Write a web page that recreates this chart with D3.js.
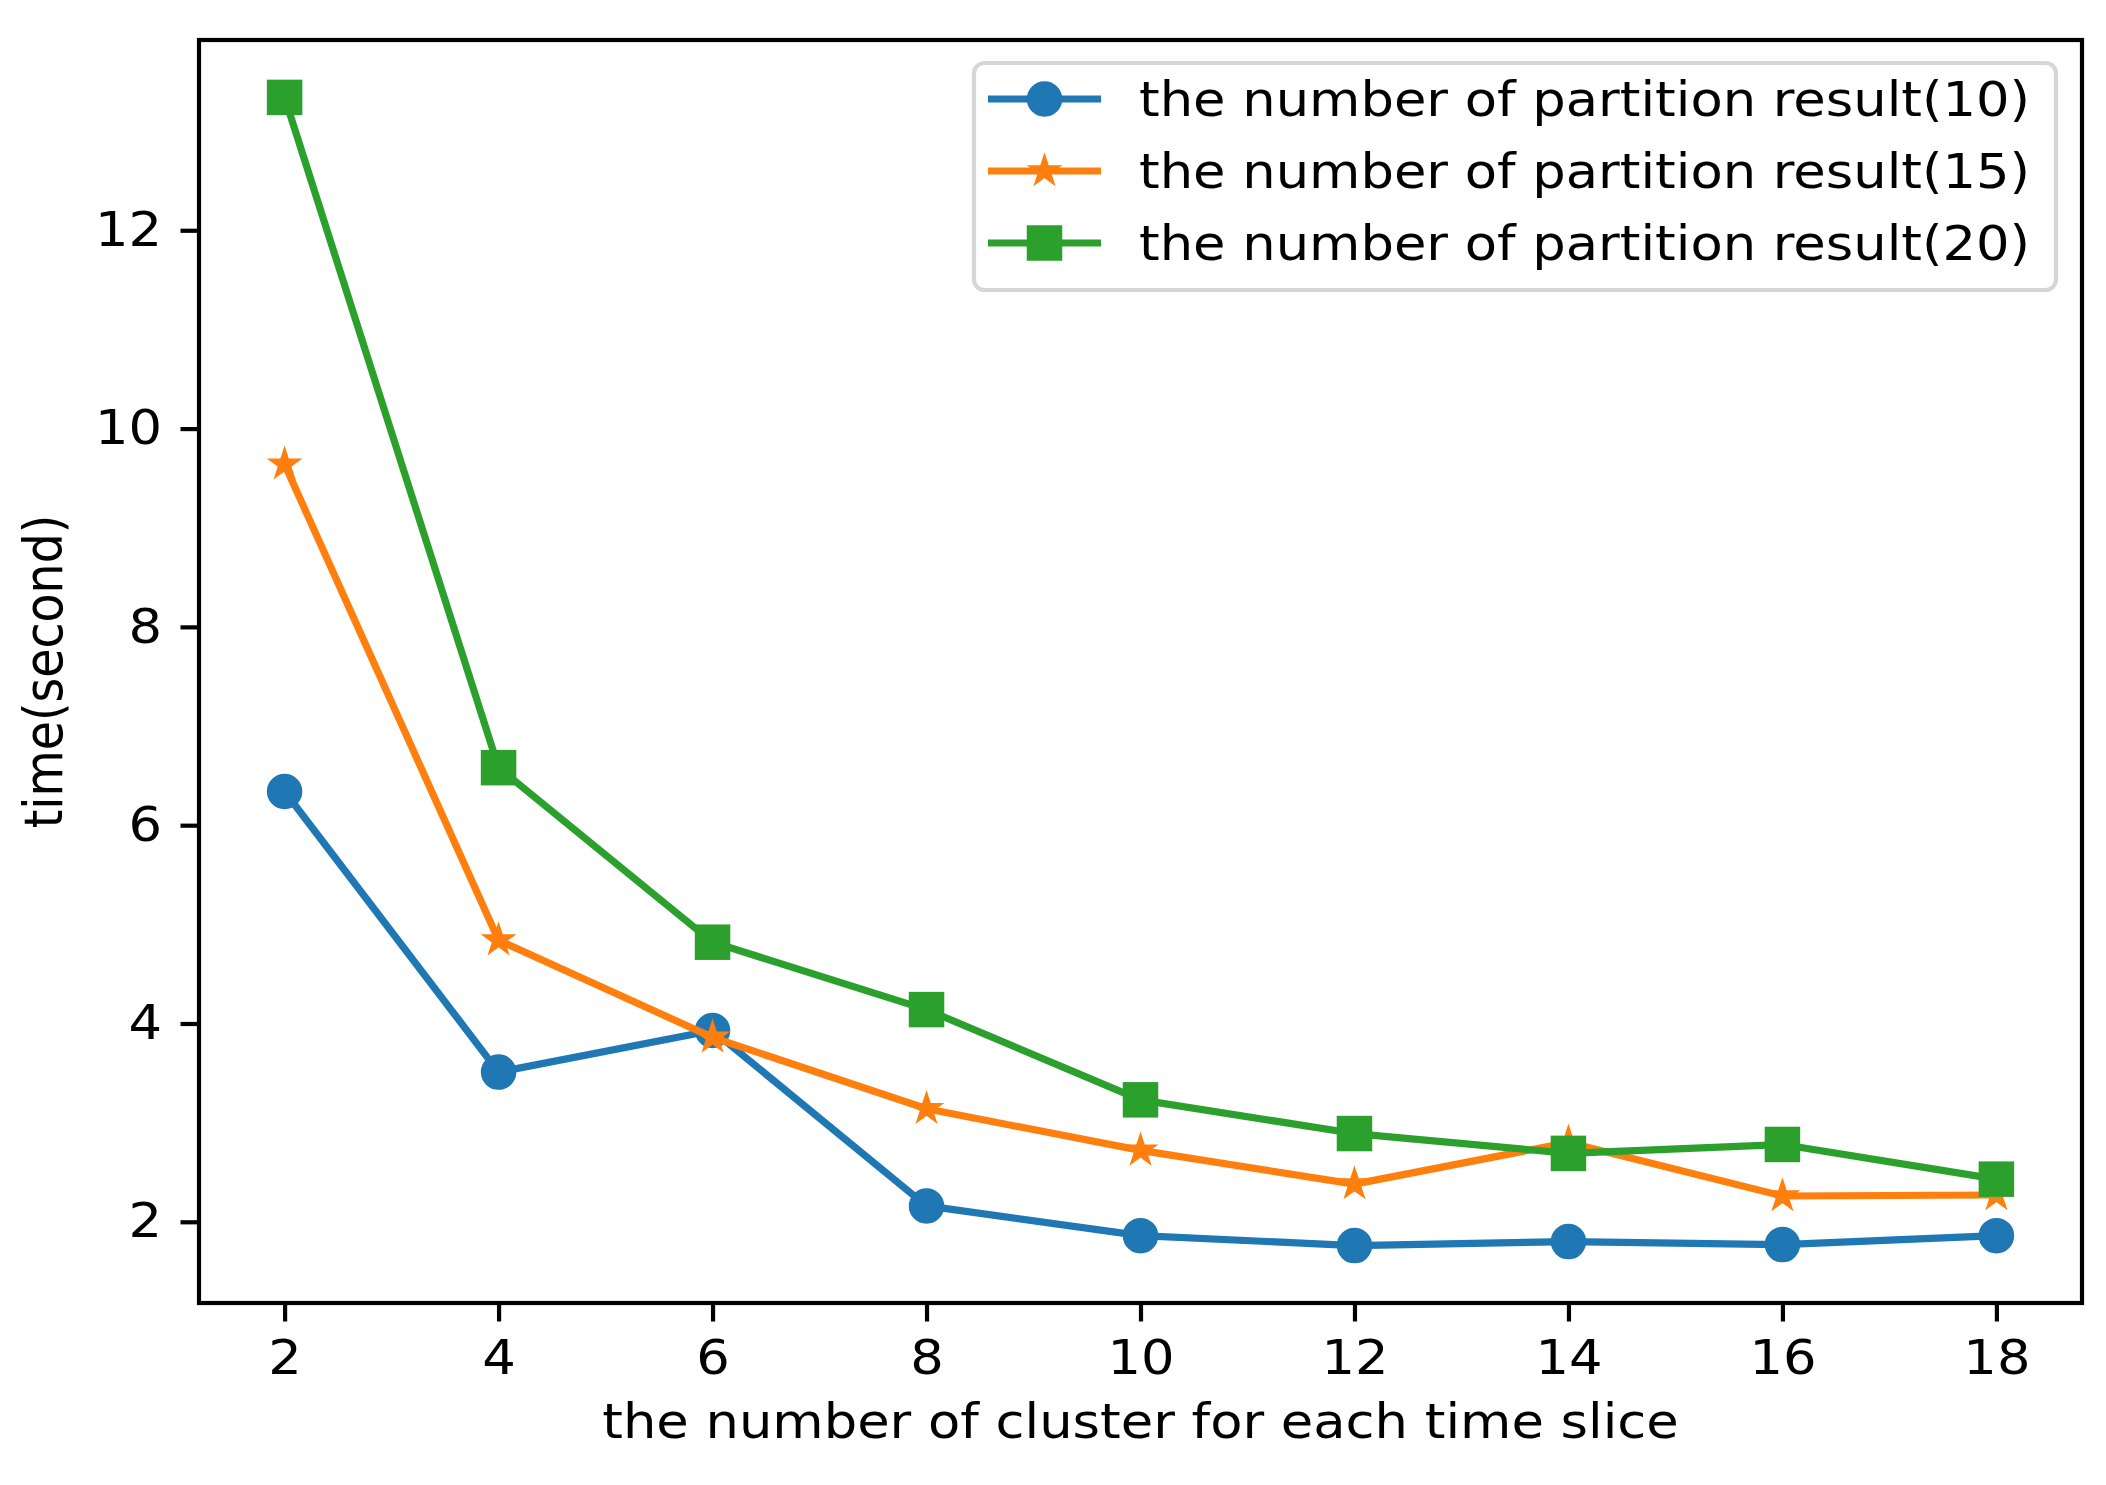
<!DOCTYPE html>
<meta charset="utf-8">
<script src="https://d3js.org/d3.v7.min.js"></script>
<style>
  body { margin: 0; background: #fff; }
  text { font-family: "DejaVu Sans", sans-serif; }
</style>
<body>
<div id="chart"></div>
<script>
// data
var clusters = [2, 4, 6, 8, 10, 12, 14, 16, 18];
var result10 = [6.34, 3.51, 3.93, 2.16, 1.86, 1.76, 1.80, 1.77, 1.86];
var result15 = [9.64, 4.84, 3.86, 3.14, 2.72, 2.38, 2.80, 2.26, 2.27];
var result20 = [13.34, 6.58, 4.82, 4.14, 3.23, 2.89, 2.69, 2.78, 2.43];
var seriesNames = ["the number of partition result(10)", "the number of partition result(15)", "the number of partition result(20)"];
var xTicks = [2, 4, 6, 8, 10, 12, 14, 16, 18];
var yTicks = [2, 4, 6, 8, 10, 12];

var W = 2106, H = 1485;
var box = { left: 199, right: 2082, top: 40, bottom: 1303 };
var fs = 47.5;         // text looks a bit wide in the picture, so stretch it
var sx = 1.11;
var lw = 7.2;
var spine = 4.2;
var msize = 31;
var colors = ["#1f77b4", "#ff7f0e", "#2ca02c"];
var shapes = ["circle", "star", "square"];
var series = [result10, result15, result20];

var svg = d3.select("#chart").append("svg")
  .attr("width", W).attr("height", H);

// scales with matplotlib style 5% margins
var xmin = d3.min(clusters), xmax = d3.max(clusters);
var xpad = (xmax - xmin) * 0.05;
var x = d3.scaleLinear().domain([xmin - xpad, xmax + xpad]).range([box.left, box.right]);

var all = result10.concat(result15, result20);
var ymin = d3.min(all), ymax = d3.max(all);
var ypad = (ymax - ymin) * 0.05;
var y = d3.scaleLinear().domain([ymin - ypad, ymax + ypad]).range([box.bottom, box.top]);

// horizontal stretch of a text around its anchor point
function stretch(sel) {
  sel.each(function () {
    var t = d3.select(this);
    var ax = +(t.attr("x") || 0), ay = +(t.attr("y") || 0);
    t.attr("transform", "translate(" + ax + "," + ay + ") scale(" + sx + ",1) translate(" + (-ax) + "," + (-ay) + ")");
  });
}

// marker paths
function starPath(r) {
  var pts = [];
  for (var i = 0; i < 10; i++) {
    var rr = i % 2 === 0 ? r : r * 0.381966;
    var a = -Math.PI / 2 + i * Math.PI / 5;
    pts.push([rr * Math.cos(a), rr * Math.sin(a)]);
  }
  return "M" + pts.map(function (p) { return p[0].toFixed(2) + "," + p[1].toFixed(2); }).join("L") + "Z";
}
function drawMarker(g, shape, color, cx, cy) {
  var m;
  if (shape === "circle") {
    m = g.append("circle").attr("cx", cx).attr("cy", cy).attr("r", msize / 2);
  } else if (shape === "square") {
    m = g.append("rect").attr("x", cx - msize / 2).attr("y", cy - msize / 2)
      .attr("width", msize).attr("height", msize);
  } else {
    m = g.append("path").attr("d", starPath(msize / 2 - 1.5)).attr("transform", "translate(" + cx + "," + cy + ")");
  }
  m.attr("fill", color).attr("stroke", color).attr("stroke-width", shape === "star" ? 3 : 4.5);
}

// axes
var xAxis = svg.append("g")
  .attr("transform", "translate(0," + box.bottom + ")")
  .call(d3.axisBottom(x).tickValues(xTicks).tickSizeInner(18.5).tickSizeOuter(0).tickPadding(19));
var yAxis = svg.append("g")
  .attr("transform", "translate(" + box.left + ",0)")
  .call(d3.axisLeft(y).tickValues(yTicks).tickSizeInner(18.5).tickSizeOuter(0).tickPadding(18.5));
[xAxis, yAxis].forEach(function (a) {
  a.select(".domain").remove();
  a.attr("font-size", null).attr("font-family", null);
  a.selectAll("line").attr("stroke", "#000").attr("stroke-width", spine);
  a.selectAll("text").attr("fill", "#000").style("font-size", fs + "px").call(stretch);
});

// series
var plot = svg.append("g");
series.forEach(function (vals, s) {
  var pts = clusters.map(function (c, i) { return [c, vals[i]]; });
  plot.append("path")
    .datum(pts)
    .attr("fill", "none")
    .attr("stroke", colors[s])
    .attr("stroke-width", lw)
    .attr("stroke-linejoin", "round")
    .attr("d", d3.line().x(function (d) { return x(d[0]); }).y(function (d) { return y(d[1]); }));
  var mg = plot.append("g");
  pts.forEach(function (d) { drawMarker(mg, shapes[s], colors[s], x(d[0]), y(d[1])); });
});

// spines
svg.append("rect")
  .attr("x", box.left).attr("y", box.top)
  .attr("width", box.right - box.left).attr("height", box.bottom - box.top)
  .attr("fill", "none").attr("stroke", "#000").attr("stroke-width", spine);

// axis labels
svg.append("text")
  .attr("x", (box.left + box.right) / 2).attr("y", 1438)
  .attr("text-anchor", "middle").style("font-size", fs + "px")
  .text("the number of cluster for each time slice")
  .call(stretch);
svg.append("text")
  .attr("transform", "translate(62," + (box.top + box.bottom) / 2 + ") scale(" + sx + ",1) rotate(-90)")
  .attr("text-anchor", "middle").style("font-size", fs + "px")
  .text("time(second)");

// legend
var lg = svg.append("g");
var lx = 974, ly = 63, lwid = 1082, lht = 227;
lg.append("rect")
  .attr("x", lx).attr("y", ly).attr("width", lwid).attr("height", lht)
  .attr("rx", 10.5).attr("ry", 10.5)
  .attr("fill", "#fff").attr("fill-opacity", 0.8)
  .attr("stroke", "#ccc").attr("stroke-opacity", 0.8).attr("stroke-width", spine);
var rowY = [99, 171, 243];
seriesNames.forEach(function (name, s) {
  var cy = rowY[s];
  lg.append("line")
    .attr("x1", 988).attr("x2", 1101).attr("y1", cy).attr("y2", cy)
    .attr("stroke", colors[s]).attr("stroke-width", lw);
  drawMarker(lg, shapes[s], colors[s], 1044.5, cy);
  lg.append("text")
    .attr("x", 1139).attr("y", cy + 17)
    .style("font-size", fs + "px").attr("fill", "#000")
    .text(name)
    .call(stretch);
});
</script>
</body>
